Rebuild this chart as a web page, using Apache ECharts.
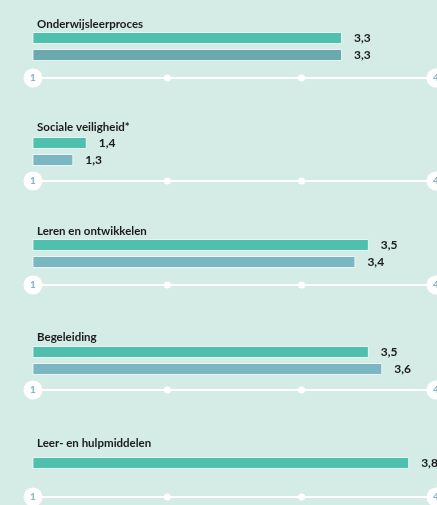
<!DOCTYPE html>
<html>
<head>
<meta charset="utf-8">
<script src="https://cdn.jsdelivr.net/npm/echarts@6/dist/echarts.min.js"></script>
<style>
  html, body { margin: 0; padding: 0; background: #d4ebe6; }
  #chart { width: 437px; height: 505px; }
</style>
</head>
<body>
<div id="chart"></div>
<script>
  // data
  var categories = ['Onderwijsleerproces', 'Sociale veiligheid*', 'Leren en ontwikkelen', 'Begeleiding', 'Leer- en hulpmiddelen'];
  var schoolScores = [3.3, 1.4, 3.5, 3.5, 3.8];
  var compareScores = [3.3, 1.3, 3.4, 3.6, null];
  var axisTicks = [1, 2, 3, 4];

  // layout per block: title centre, top of bars, axis line
  var titleY = [20, 123, 227, 333, 439];
  var barTop = [29.5, 134.5, 236.5, 343.5, 454.5];
  var axisY = [78, 181, 285, 390, 497];
  var barColors = [['#4fbfae', '#6aa9ae'], ['#4fbfae', '#7ab7c2'], ['#4fbfae', '#7ab7c2'], ['#4fbfae', '#7ab7c2'], ['#4fbfae', '#7ab7c2']];
  var rowH = 17;

  var titles = [], grids = [], xAxes = [], yAxes = [], series = [];
  categories.forEach(function (name, i) {
    var values = [schoolScores[i]];
    if (compareScores[i] != null) values.push(compareScores[i]);
    var h = rowH * values.length;
    titles.push({
      text: name, left: 32, top: titleY[i] - 7,
      textStyle: { fontFamily: 'Lato', fontSize: 11.5, fontWeight: 'bold', color: '#1b1b1b' }
    });
    grids.push({ left: 33, right: 1, top: barTop[i], height: h, outerBoundsMode: 'none', containLabel: false });
    xAxes.push({
      gridIndex: i, type: 'value', min: axisTicks[0], max: axisTicks[axisTicks.length - 1], interval: 1,
      position: 'bottom', offset: axisY[i] - barTop[i] - h,
      splitLine: { show: false }, axisTick: { show: false },
      axisLine: { show: true, lineStyle: { color: '#ffffff', width: 2 } },
      axisLabel: {
        margin: 0, verticalAlign: 'middle', showMinLabel: true, showMaxLabel: true, hideOverlap: false,
        formatter: function (v) {
          return (v === 1 || v === 4) ? '{c|' + v + '}' : '{d| }';
        },
        rich: {
          c: { width: 19, height: 19, lineHeight: 19, borderRadius: 10, backgroundColor: '#ffffff',
               align: 'center', color: '#7fb6c0', fontFamily: 'Lato', fontSize: 10, fontWeight: 'bold' },
          d: { width: 7, height: 7, lineHeight: 7, borderRadius: 4, backgroundColor: '#ffffff', fontSize: 1 }
        }
      }
    });
    yAxes.push({
      gridIndex: i, type: 'category', inverse: true, show: false,
      data: values.map(function (v, k) { return k === 0 ? 'school' : 'vergelijking'; })
    });
    series.push({
      type: 'bar', xAxisIndex: i, yAxisIndex: i, barWidth: 12,
      data: values,
      itemStyle: {
        color: function (p) { return barColors[i][p.dataIndex]; },
        borderColor: 'rgba(255,255,255,0.75)', borderWidth: 1
      },
      label: {
        show: true, position: 'right', distance: 12,
        fontFamily: 'Lato', fontSize: 12, fontWeight: 'bold', color: '#1b1b1b',
        formatter: function (p) { return String(p.value).replace('.', ','); }
      },
      silent: true, animation: false
    });
  });

  var myChart = echarts.init(document.getElementById('chart'));
  myChart.setOption({
    backgroundColor: '#d4ebe6',
    animation: false,
    title: titles,
    grid: grids,
    xAxis: xAxes,
    yAxis: yAxes,
    series: series
  });
</script>
</body>
</html>
